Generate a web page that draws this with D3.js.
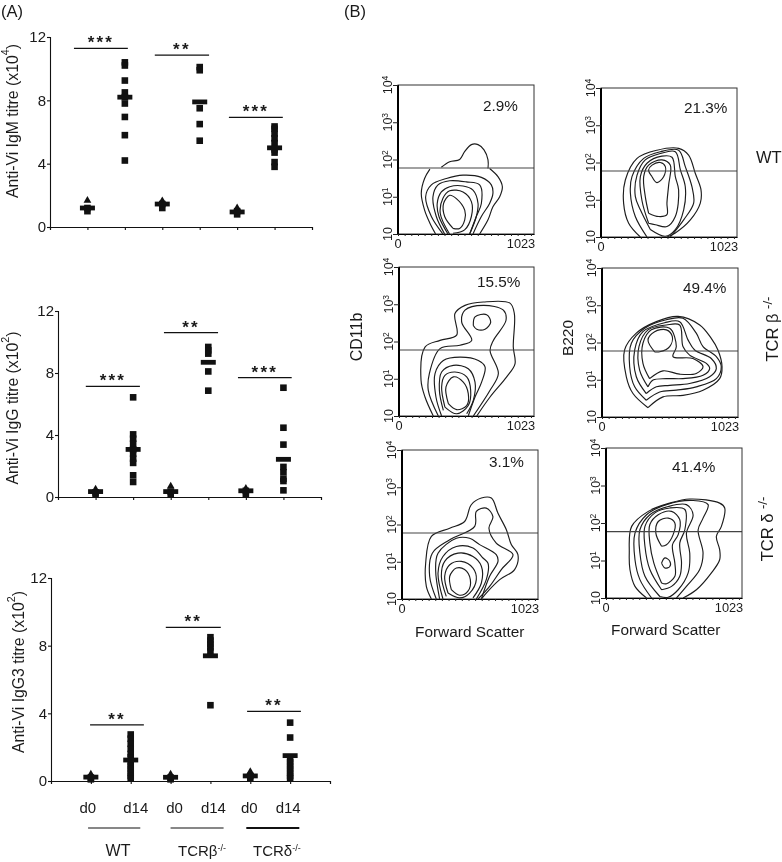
<!DOCTYPE html>
<html><head><meta charset="utf-8">
<script src="https://cdn.jsdelivr.net/npm/d3@7/dist/d3.min.js"></script>
<style>
html,body{margin:0;padding:0;background:#fff;overflow:hidden}
svg{display:block;filter:blur(0.4px)}
text{font-family:"Liberation Sans",Arial,sans-serif;fill:#1a1a1a}
</style></head><body><svg id="c" width="782" height="862"></svg>
<script>
// ---------- Panel A data: one array per group, values in axis units ----------
const groupLabels=["d0","d14","d0","d14","d0","d14"];
const genotypes=["WT","TCRβ","TCRδ"];
const igmPoints=[[1.0,1.2,1.68],[10.4,10.2,9.25,8.5,8.2,7.8,6.95,5.8,4.2],[1.2,1.45,1.65],[10.1,9.9,7.5,6.5,5.45],[0.8,1.0,1.2],[6.35,6.2,5.9,5.6,5.3,4.9,4.7,4.1,3.8]];
const igmMeans=[1.2,8.2,1.45,7.9,0.95,5.0];
const iggPoints=[[0.15,0.3,0.5],[6.43,4.04,3.76,3.44,3.07,2.8,2.47,2.2,1.4,0.97],[0.15,0.35,0.7],[9.68,9.46,9.25,8.1,6.86],[0.2,0.4,0.55],[7.05,4.47,3.38,1.94,1.6,1.18,1.03,0.43]];
const iggMeans=[0.35,3.07,0.35,8.69,0.4,2.43];
const igg3Points=[[0.1,0.2,0.4],[2.75,2.5,2.2,1.9,1.6,1.4,1.1,0.9,0.7,0.5,0.3,0.15],[0.1,0.2,0.4],[8.5,8.3,8.1,7.9,7.7,4.48],[0.15,0.3,0.55],[3.45,2.57,1.3,1.1,0.9,0.7,0.5,0.3,0.15]];
const igg3Means=[0.23,1.24,0.22,7.4,0.3,1.5];
const yTicks=[0,4,8,12];
const igmSig=[[0.64,2.08,11.28,"***"],[2.8,4.25,10.85,"**"],[4.78,6.22,6.93,"***"]];
const iggSig=[[0.74,2.18,7.14,"***"],[2.82,4.26,10.6,"**"],[4.79,6.22,7.7,"***"]];
const igg3Sig=[[0.98,2.33,3.32,"**"],[2.88,4.26,9.08,"**"],[4.92,6.27,4.12,"**"]];

// ---------- Panel B data: contours as [forward scatter, log decade] ----------
const wtCd11b=[
 [[326,1.79],[389,1.94],[464,2.0],[501,2.21],[552,2.40],[602,2.40],[647,2.26],[677,1.99],[677,1.76]],
 [[283,0],[240,.29],[200,.64],[175,1.09],[200,1.49],[240,1.74]],
 [[689,1.76],[752,1.54],[785,1.27],[765,1.0],[714,.73],[677,.38],[614,0]],
 [[338,0],[251,.47],[208,1.0],[251,1.32],[364,1.49],[489,1.58],[627,1.52],[702,1.32],[714,1.09],[689,.82],[627,.47],[564,0]],
 [[351,0],[288,.47],[263,1.0],[301,1.32],[389,1.43],[514,1.40],[614,1.32],[627,.82],[589,.47],[539,0]],
 [[376,0],[308,.47],[295,.82],[326,1.13],[389,1.27],[489,1.29],[564,1.18],[602,.82],[589,.47],[539,0]],
 [[388,0],[318,.55],[338,.96],[389,1.16],[489,1.13],[552,.87],[552,.47],[501,.11],[414,.02]],
 [[414,.15],[351,.47],[343,.82],[389,1.04],[439,.95],[502,.64],[502,.38],[464,.15],[414,.15]]];
const wtB220=[
 [[296,0],[208,.37],[170,.91],[183,1.53],[271,2.11],[421,2.33],[584,2.38],[659,2.2],[709,1.71],[752,1.27],[747,.91],[672,.46],[559,.11],[496,0]],
 [[346,0],[258,.55],[221,1.18],[233,1.62],[321,2.11],[446,2.29],[584,2.33],[634,1.89],[684,1.35],[697,.91],[622,.46],[521,0]],
 [[371,.2],[296,.73],[258,1.09],[271,1.66],[333,2.07],[446,2.24],[559,2.29],[597,1.8],[634,1.35],[622,.73],[559,.2],[484,.02],[371,.2]],
 [[358,.37],[308,.98],[296,1.62],[346,1.98],[458,2.17],[534,2.14],[559,1.62],[584,1.26],[559,.55],[496,.28],[409,.33],[358,.37]],
 [[358,.64],[333,1.09],[321,1.62],[358,1.93],[458,2.07],[521,1.93],[509,1.40],[496,.91],[496,.6],[434,.55],[358,.64]],
 [[384,1.62],[358,1.8],[384,1.93],[446,2.0],[484,1.89],[471,1.62],[421,1.46],[384,1.62]]];
const betaCd11b=[
 [[260,0],[197,.51],[167,.96],[197,1.85],[311,2.03],[437,2.17],[424,2.75],[500,2.97],[639,3.06],[841,3.03],[874,2.75],[866,1.85],[879,1.40],[816,1.05],[690,.51],[589,0]],
 [[298,0],[222,.69],[230,1.14],[311,1.81],[462,1.9],[551,2.03],[475,2.52],[500,2.84],[639,2.97],[791,2.84],[811,2.57],[715,2.03],[690,1.76],[753,1.14],[690,.69],[563,0]],
 [[323,0],[280,.51],[273,1.14],[336,1.49],[462,1.58],[601,1.49],[652,1.32],[626,.91],[576,.51],[525,0]],
 [[336,.15],[306,.69],[323,1.18],[412,1.36],[525,1.27],[576,.91],[563,.42],[513,.06]],
 [[348,.24],[323,.78],[348,1.09],[424,1.18],[513,1.05],[543,.69],[525,.28],[437,.06],[348,.24]],
 [[374,.33],[356,.78],[412,1.05],[487,.91],[525,.6],[513,.28],[437,.17],[374,.33]],
 [[563,2.43],[576,2.66],[664,2.72],[695,2.52],[652,2.33],[589,2.33],[563,2.43]]];
const betaB220=[
 [[346,.25],[233,.63],[183,1.08],[170,1.8],[258,2.25],[409,2.56],[572,2.7],[735,2.47],[822,2.11],[872,1.8],[903,1.35],[885,1.03],[760,.72],[609,.58],[459,.54],[346,.25]],
 [[333,.45],[246,.81],[208,1.35],[221,1.98],[321,2.38],[484,2.61],[609,2.65],[709,2.25],[760,1.89],[860,1.62],[897,1.35],[860,1.03],[709,.81],[559,.72],[434,.67],[333,.45]],
 [[333,.63],[258,1.08],[246,1.8],[308,2.29],[471,2.53],[584,2.56],[647,2.07],[697,1.8],[822,1.57],[860,1.30],[810,1.08],[659,.9],[509,.85],[409,.81],[333,.63]],
 [[346,.81],[283,1.26],[278,1.89],[346,2.34],[484,2.47],[584,2.47],[609,1.89],[659,1.66],[785,1.44],[810,1.3],[760,1.12],[609,1.03],[484,1.03],[384,.99],[346,.81]],
 [[358,1.03],[308,1.44],[308,1.98],[371,2.34],[509,2.38],[559,1.89],[534,1.62],[684,1.57],[760,1.35],[709,1.17],[584,1.15],[459,1.24],[358,1.03]],
 [[396,1.75],[346,2.07],[396,2.29],[484,2.34],[529,2.16],[509,1.89],[434,1.75],[396,1.75]]];
const deltaCd11b=[
 [[221,0],[183,.34],[178,.96],[221,1.68],[359,1.9],[471,2.08],[521,2.53],[597,2.71],[672,2.71],[722,2.3],[785,1.86],[822,1.46],[872,1.19],[847,.79],[735,.52],[634,.16],[597,0]],
 [[258,0],[208,.61],[228,1.23],[359,1.59],[547,1.95],[559,2.35],[634,2.44],[684,2.21],[654,1.9],[709,1.5],[835,1.19],[747,.79],[659,.34],[572,0]],
 [[283,0],[253,.79],[271,1.23],[409,1.63],[509,1.63],[584,1.46],[709,1.19],[722,1.01],[659,.61],[597,0]],
 [[308,0],[271,.7],[308,1.14],[409,1.41],[534,1.37],[609,1.1],[647,.96],[634,.52],[559,0]],
 [[333,.07],[296,.61],[321,1.01],[421,1.23],[534,1.14],[597,.88],[597,.43],[534,.03]],
 [[346,.16],[321,.61],[359,.92],[446,1.01],[534,.83],[559,.52],[509,.16],[434,.03],[346,.16]],
 [[371,.25],[359,.61],[409,.83],[471,.79],[514,.52],[496,.21],[434,.1],[371,.25]]];
const deltaB220=[
 [[305,0],[218,.31],[180,.76],[175,1.2],[193,1.91],[318,2.31],[480,2.53],[630,2.64],[855,2.53],[893,2.4],[868,1.91],[830,1.64],[855,1.29],[855,1.02],[793,.67],[680,.22],[580,0]],
 [[343,0],[255,.49],[218,1.02],[218,1.73],[305,2.22],[455,2.49],[655,2.6],[768,2.49],[730,2.13],[693,1.82],[730,1.2],[705,.76],[605,.31],[530,0]],
 [[405,.04],[293,.58],[255,1.2],[255,1.82],[330,2.22],[468,2.44],[605,2.49],[655,2.22],[605,1.73],[630,1.2],[618,.67],[543,.22],[468,.02],[405,.04]],
 [[418,.22],[330,.76],[293,1.38],[293,1.91],[368,2.27],[480,2.4],[593,2.36],[593,1.82],[555,1.47],[568,.93],[555,.58],[493,.31],[418,.22]],
 [[418,.4],[360,.93],[330,1.47],[330,1.96],[393,2.22],[493,2.31],[555,2.09],[543,1.69],[500,1.42],[518,.93],[518,.58],[455,.38],[418,.4]],
 [[418,1.38],[375,1.73],[393,2.04],[468,2.13],[518,2.0],[505,1.69],[455,1.42],[418,1.38]],
 [[418,.93],[443,1.07],[480,.98],[480,.84],[443,.8],[418,.93]]];
const gateDecade=1.77;
const percents=["2.9%","21.3%","15.5%","49.4%","3.1%","41.4%"];
const decadeTicks=[0,1,2,3,4];
const fscTicks=[0,1023];
const fscMinor=[0,50,100,150,200,250,300,350,400,450,500,550,600,650,700,750,800,850,900,950,1000];

const svg=d3.select("#c");
const ink="#111";

function txt(x,y,s,size,opt={}){
  const t=svg.append("text").attr("font-size",size).attr("text-anchor",opt.anchor||"start")
    .attr("transform",`translate(${x},${y})`+(opt.rot?` rotate(${opt.rot})`:""));
  if(opt.sup){t.append("tspan").text(s);t.append("tspan").attr("dy",-size*.35).attr("font-size",size*(opt.supScale||.68)).text(opt.sup);
    if(opt.tail)t.append("tspan").attr("dy",size*.35).text(opt.tail);}
  else t.text(s);
  return t;
}

txt(1,17,"(A)",16.5);
txt(344,17,"(B)",16.5);

// Scatter panels
const scatter=[
 {pts:igmPoints,means:igmMeans,sig:igmSig,x0:50,x1:312,yTop:37,yBot:227,title:"Anti-Vi IgM titre (x10",sup:"4",tx:7,ty:121},
 {pts:iggPoints,means:iggMeans,sig:iggSig,x0:58,x1:321,yTop:311,yBot:497,title:"Anti-Vi IgG titre (x10",sup:"2",tx:7,ty:408},
 {pts:igg3Points,means:igg3Means,sig:igg3Sig,x0:51,x1:330,yTop:578,yBot:781,title:"Anti-Vi IgG3 titre (x10",sup:"2",tx:13,ty:672}
];
const tri=d3.symbol().type(d3.symbolTriangle).size(26);
scatter.forEach(p=>{
  const x=d3.scaleLinear().domain([0,7]).range([p.x0,p.x1]);
  const y=d3.scaleLinear().domain([0,12]).range([p.yBot,p.yTop]);
  const g=svg.append("g");
  const ay=g.append("g").attr("transform",`translate(${p.x0},0)`)
    .call(d3.axisLeft(y).tickValues(yTicks).tickSize(3).tickPadding(1).tickFormat(d3.format("d")));
  const ax=g.append("g").attr("transform",`translate(0,${p.yBot})`)
    .call(d3.axisBottom(x).ticks(7).tickSize(3).tickSizeOuter(3).tickFormat(""));
  [ay,ax].forEach(a=>{a.selectAll("path,line").attr("stroke",ink).attr("stroke-width",1.1);});
  ay.selectAll("text").attr("font-size",15).attr("fill","#1a1a1a").attr("font-family",'"Liberation Sans"');
  p.pts.forEach((vals,i)=>{
    const cx=x(i+1);
    vals.forEach((v,k)=>{
      if(i%2===0 && k===vals.length-1){
        g.append("path").attr("d",tri).attr("fill",ink).attr("transform",`translate(${cx},${y(v)})`);
      } else {
        g.append("rect").attr("x",cx-3.3).attr("y",y(v)-3.3).attr("width",6.6).attr("height",6.6).attr("fill",ink);
      }
    });
    g.append("rect").attr("x",cx-7.5).attr("y",y(p.means[i])-2.4).attr("width",15).attr("height",4.8).attr("fill",ink);
  });
  p.sig.forEach(s=>{
    g.append("line").attr("x1",x(s[0])).attr("x2",x(s[1])).attr("y1",y(s[2])).attr("y2",y(s[2])).attr("stroke",ink).attr("stroke-width",1.2);
    g.append("text").attr("x",(x(s[0])+x(s[1]))/2).attr("y",y(s[2])).attr("text-anchor","middle")
      .attr("font-size",17).attr("font-weight","bold").attr("letter-spacing",2.2).text(s[3]);
  });
  txt(p.tx,p.ty,p.title,15.8,{rot:-90,anchor:"middle",sup:p.sup,tail:")"}).attr("dominant-baseline","hanging");
  if(p===scatter[2]){
    const off=[-3,5,4,3,-1,-2];
    groupLabels.forEach((l,i)=>txt(x(i+1)+off[i],813,l,15,{anchor:"middle"}));
    [[.93,2.24],[3,4.33],[4.9,6.23]].forEach((r,i)=>{
      g.append("line").attr("x1",x(r[0])).attr("x2",x(r[1])).attr("y1",828).attr("y2",828).attr("stroke",ink).attr("stroke-width",i==2?1.8:1.2);
    });
    txt(118,856,genotypes[0],16,{anchor:"middle"});
    txt(178,856,genotypes[1],15,{sup:"-/-",supScale:.6});
    txt(253,856,genotypes[2],15,{sup:"-/-",supScale:.6});
  }
});

// Flow cytometry panels
const flow=[
 {c:wtCd11b,x0:398,x1:534,y0:85,y1:234,pct:[483,111]},
 {c:wtB220,x0:601,x1:737,y0:88,y1:237,pct:[684,113]},
 {c:betaCd11b,x0:399,x1:534,y0:267,y1:416,pct:[477,287]},
 {c:betaB220,x0:602,x1:738,y0:268,y1:417,pct:[683,293]},
 {c:deltaCd11b,x0:402,x1:538,y0:450,y1:599,pct:[489,467]},
 {c:deltaB220,x0:606,x1:742,y0:448,y1:598,pct:[672,472]}
];
flow.forEach((p,i)=>{
  const x=d3.scaleLinear().domain([0,1023]).range([p.x0,p.x1]);
  const y=d3.scaleLinear().domain([0,4]).range([p.y1,p.y0]);
  const g=svg.append("g");
  const id="clip"+i;
  g.append("clipPath").attr("id",id).append("rect").attr("x",p.x0).attr("y",p.y0).attr("width",p.x1-p.x0).attr("height",p.y1-p.y0);
  const line=d3.line().x(d=>x(d[0])).y(d=>y(d[1])).curve(d3.curveCatmullRom.alpha(.5));
  g.append("g").attr("clip-path",`url(#${id})`).selectAll("path").data(p.c).join("path")
    .attr("d",line).attr("fill","none").attr("stroke","#1c1c1c").attr("stroke-width",1.15);
  g.append("line").attr("x1",p.x0).attr("x2",p.x1).attr("y1",y(gateDecade)).attr("y2",y(gateDecade)).attr("stroke","#444").attr("stroke-width",1.1);
  g.append("rect").attr("x",p.x0).attr("y",p.y0).attr("width",p.x1-p.x0).attr("height",p.y1-p.y0).attr("fill","none").attr("stroke","#333").attr("stroke-width",1);
  g.append("line").attr("x1",p.x0).attr("x2",p.x0).attr("y1",p.y0).attr("y2",p.y1).attr("stroke","#000").attr("stroke-width",2);
  const ax=g.append("g").attr("transform",`translate(0,${p.y1})`)
    .call(d3.axisBottom(x).tickValues(fscMinor).tickSize(2).tickSizeOuter(0).tickFormat(""));
  ax.select("path").attr("stroke","#000").attr("stroke-width",1.2);
  ax.selectAll("line").attr("stroke","#222").attr("stroke-width",1);
  const ay=g.append("g").attr("transform",`translate(${p.x0},0)`)
    .call(d3.axisLeft(y).tickValues(decadeTicks).tickSize(5).tickFormat(""));
  ay.select("path").attr("stroke","none");
  ay.selectAll("line").attr("stroke","#222").attr("stroke-width",1);
  decadeTicks.forEach(d=>{
    txt(p.x0-6,y(d),"10",12.5,{rot:-90,anchor:"middle",sup:d?String(d):null});
  });
  fscTicks.forEach(d=>{
    txt(x(d)+(d?-13:0),p.y1+14,String(d),12.8,{anchor:"middle"});
  });
  txt(p.pct[0],p.pct[1],percents[i],15.3);
});

txt(415,637,"Forward Scatter",15.4);
txt(611,635,"Forward Scatter",15.4);
txt(362,337,"CD11b",16,{rot:-90,anchor:"middle"});
txt(573,338,"B220",15.5,{rot:-90,anchor:"middle"});
txt(756,163,"WT",16.5);
txt(778,329,"TCR β ",16.5,{rot:-90,anchor:"middle",sup:"-/-",supScale:.8});
txt(773,529,"TCR δ ",16.5,{rot:-90,anchor:"middle",sup:"-/-",supScale:.8});
</script></body></html>
